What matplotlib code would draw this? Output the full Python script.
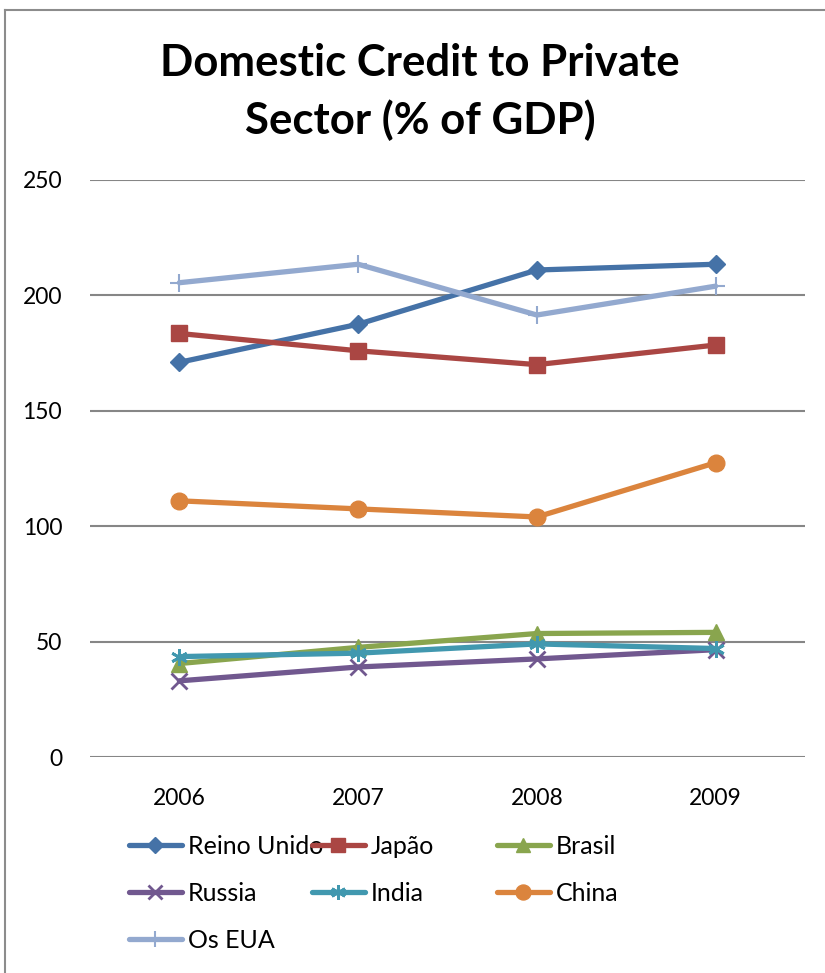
import matplotlib.pyplot as plt
from matplotlib.lines import Line2D

years = ["2006", "2007", "2008", "2009"]
reino_unido = [171.0, 187.5, 211.0, 213.5]
japao = [183.5, 176.0, 170.0, 178.5]
brasil = [40.5, 47.5, 53.5, 54.0]
russia = [33.0, 39.0, 42.5, 46.5]
india = [43.5, 45.0, 49.0, 47.0]
china = [111.0, 107.5, 104.0, 127.5]
os_eua = [205.5, 213.5, 191.5, 204.0]

plt.rcParams['font.family'] = ['Lato', 'DejaVu Sans']

fig = plt.figure(figsize=(8.25, 9.73), dpi=100)
ax = fig.add_axes([90 / 825, 1 - 757 / 973, 715 / 825, 577 / 973])

x = list(range(len(years)))
series = [
    ("Reino Unido", reino_unido, "#4572A7", dict(marker="D", ms=9)),
    ("Japão", japao, "#AA4643", dict(marker="s", ms=11)),
    ("Brasil", brasil, "#89A54E", dict(marker="^", ms=11)),
    ("Russia", russia, "#71588F", dict(marker="x", ms=11, mew=2)),
    ("India", india, "#4198AF", dict(marker=(6, 2, 0), ms=12, mew=2)),
    ("China", china, "#DB843D", dict(marker="o", ms=12)),
    ("Os EUA", os_eua, "#93A9CF", dict(marker="+", ms=13, mew=1.5)),
]
handles = {}
for name, vals, col, mk in series:
    ln, = ax.plot(x, vals, color=col, lw=3.8, mec=col, mfc=col,
                  solid_capstyle="round", label=name, **mk)
    handles[name] = ln

ax.set_xlim(-0.5, 3.5)
ax.set_ylim(0, 250)
ax.set_yticks(range(0, 251, 50))
ax.set_xticks(x)
ax.set_xticklabels(years)
ax.tick_params(length=0, labelsize=16.5, colors="black")
ax.tick_params(axis="y", pad=20)
ax.tick_params(axis="x", pad=22)
ax.grid(axis="y", color="#868686", lw=1.5)
ax.set_axisbelow(True)
for s in ax.spines.values():
    s.set_visible(False)

fig.text(420 / 825, 1 - 92 / 973, "Domestic Credit to Private\nSector (% of GDP)",
         ha="center", va="center", fontsize=31.5, fontweight="bold", linespacing=1.45)

# legend laid out in three fixed columns
columns = [["Reino Unido", "Russia", "Os EUA"], ["Japão", "India"], ["Brasil", "China"]]
col_x = [129, 312, 497]
for cx, names in zip(col_x, columns):
    fig.legend([handles[n] for n in names], names, loc="upper left",
               bbox_to_anchor=(cx / 825, 1 - 835 / 973), frameon=False,
               fontsize=18, handlelength=2.1, handletextpad=0.25,
               labelspacing=0.96, borderpad=0, borderaxespad=0, markerscale=0.9)

# outer chart frame
fig.add_artist(Line2D([5 / 825, 5 / 825], [0, 1 - 10 / 973], color="#8c8c8c", lw=1.5))
fig.add_artist(Line2D([5 / 825, 1], [1 - 10 / 973, 1 - 10 / 973], color="#8c8c8c", lw=1.5))

fig.savefig("out.png", dpi=100)
